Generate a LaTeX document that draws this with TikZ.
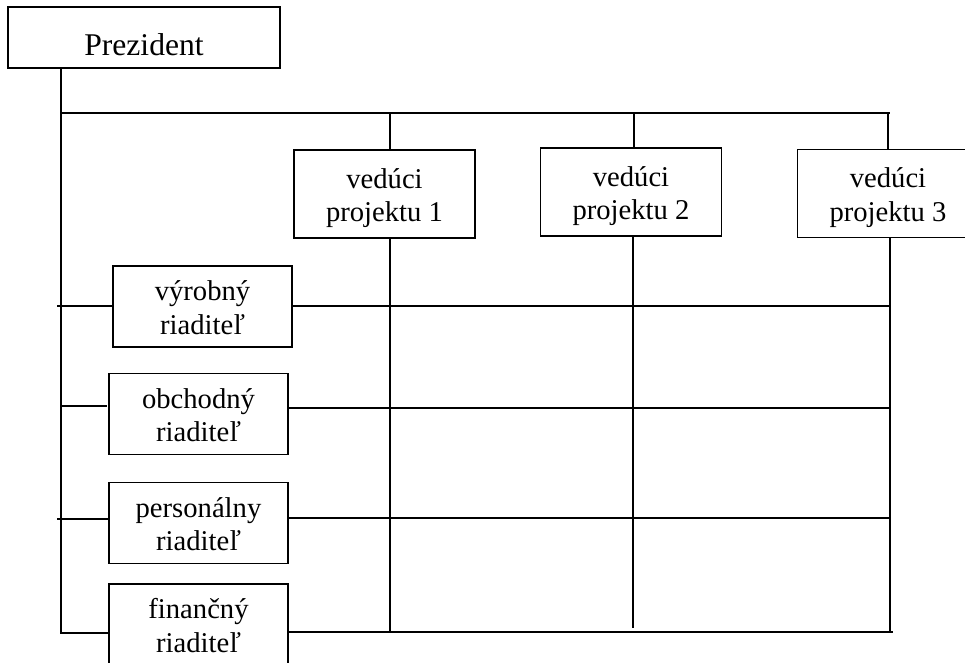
\documentclass[tikz,border=0pt]{standalone}
\usepackage{fontspec}
\setmainfont{Liberation Serif}
\usetikzlibrary{positioning, calc}

\begin{document}
\begin{tikzpicture}[
    x=0.02cm, y=-0.02cm,
    line width=1pt,
    box/.style     ={draw, line width=1pt, align=center, inner sep=0pt,
                     text height=31.5pt, text depth=0pt,
                     font=\fontsize{16.3}{19}\selectfont},
    topbox/.style  ={box, minimum width=5.44cm, minimum height=1.22cm,
                     text height=20pt, font=\fontsize{18}{20}\selectfont},
    projbox/.style ={box, minimum width=3.62cm, minimum height=1.76cm},
    dirbox/.style  ={box, minimum width=3.58cm, minimum height=1.62cm}
]
\useasboundingbox (0,0) rectangle (965,663);

% Top: president
\node[topbox] (prez) at (144,37.5) {Prezident};

% Project managers
\node[projbox] (p1) at (384.5,194) {vedúci\\projektu 1};
\node[projbox] (p2) at (631,192)   {vedúci\\projektu 2};
\node[projbox] (p3) at (888,193.5) {vedúci\\projektu 3};

% Directors
\node[dirbox] (vyr)  at (202.5,306.5) {výrobný\\riaditeľ};
\node[dirbox] (obch) at (198.5,414)   {obchodný\\riaditeľ};
\node[dirbox] (pers) at (198.5,523)   {personálny\\riaditeľ};
\node[dirbox] (fin)  at (198.5,624.5) {finančný\\riaditeľ};

% --- Grid coordinates ---
\coordinate (top) at (61,113);
\coordinate (bot) at (61,633);
\coordinate (c1) at (390,632);
\coordinate (c2) at (633,628);
\coordinate (c3) at (890,632);
\coordinate (r1) at (890,306);
\coordinate (r2) at (890,408);
\coordinate (r3) at (890,518);
\coordinate (r4) at (893,632);

% Trunk from president
\draw (prez.south -| top) -- (bot) -- (bot -| fin.west);
\draw (top) -- (top -| c3);

% Ticks down to project managers
\draw (c1 |- top) -- (c1 |- p1.north);
\draw (634,113) -- (634,148);
\draw (888,113) -- (888,150);

% Project columns
\draw (c1 |- p1.south) -- (c1);
\draw (c2 |- p2.south) -- (c2);
\draw (c3 |- p3.south) -- (c3);

% Stubs from trunk to directors
\draw (57,306) -- (vyr.west |- r1);
\draw (61,406) -- (107,406);
\draw (57,519) -- (pers.west |- 0,519);

% Director rows
\draw (vyr.east |- r1) -- (r1);
\draw (obch.east |- r2) -- (r2);
\draw (pers.east |- r3) -- (r3);
\draw (fin.east |- r4) -- (r4);

\end{tikzpicture}
\end{document}
